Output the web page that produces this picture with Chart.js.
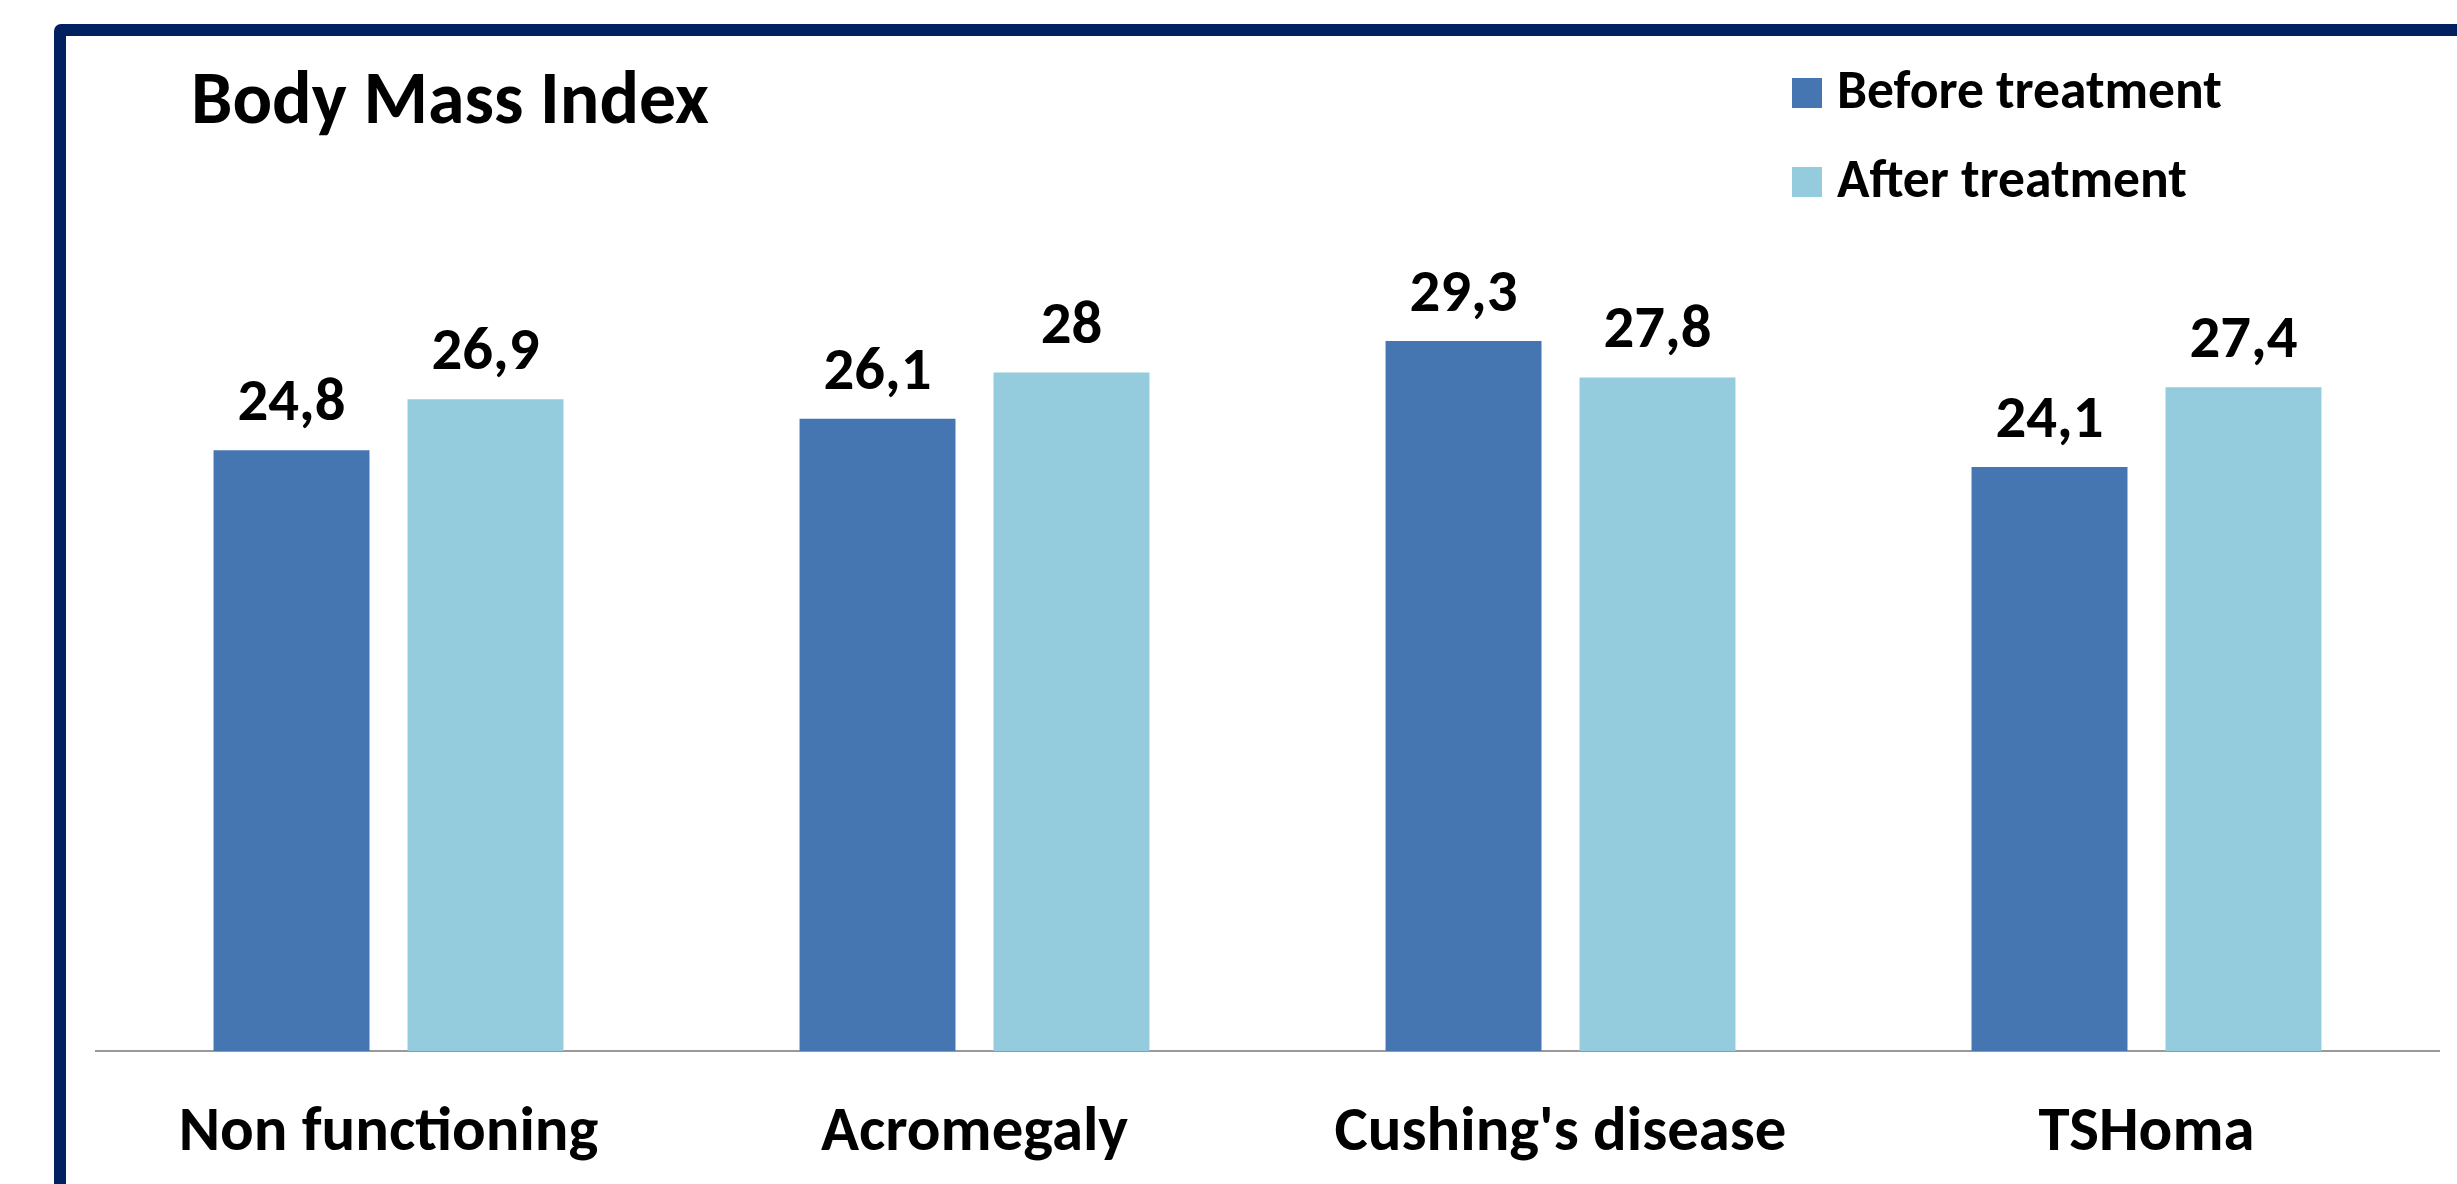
<!DOCTYPE html>
<html>
<head>
<meta charset="utf-8">
<script src="https://cdn.jsdelivr.net/npm/chart.js@4.4.1/dist/chart.umd.min.js"></script>
<style>
  html, body { margin: 0; padding: 0; background: #fff; overflow: hidden; width: 2457px; height: 1184px; }
  #frame { position: absolute; left: 54px; top: 24px; width: 2440px; height: 1220px;
           border: 12px solid #002060; border-radius: 7px; box-sizing: border-box; }
  #chart { position: absolute; left: 0; top: 0; }
</style>
</head>
<body>
<div id="frame"></div>
<canvas id="chart" width="2457" height="1184"></canvas>
<script>
// Body mass index by pituitary tumour type, before and after treatment
const categories = ['Non functioning', 'Acromegaly', "Cushing's disease", 'TSHoma'];
const seriesNames = ['Before treatment', 'After treatment'];
const beforeValues = [24.8, 26.1, 29.3, 24.1];
const afterValues = [26.9, 28, 27.8, 27.4];
const chartTitle = 'Body Mass Index';
const yMin = 0;
const yMax = 35;

const seriesColors = ['#4676B2', '#94CCDD'];
const FAMILY = "Carlito, Lato, 'Open Sans', sans-serif";

// Size each text style so its width matches the intended layout width
const measureCtx = document.createElement('canvas').getContext('2d');
function fitSize(text, width) {
  measureCtx.font = `bold 100px ${FAMILY}`;
  return 100 * width / measureCtx.measureText(text).width;
}
const titleSize = fitSize(chartTitle, 518);
const legendSize = fitSize(seriesNames[0], 385);
const valueSize = fitSize('24,8', 108);
const tickSize = fitSize('TSHoma', 216);

const formatValue = v => String(v).replace('.', ',');

// Values written above each bar
const valueLabels = {
  id: 'valueLabels',
  afterDatasetsDraw(chart) {
    const ctx = chart.ctx;
    ctx.save();
    ctx.font = `bold ${valueSize}px ${FAMILY}`;
    ctx.fillStyle = '#000';
    ctx.textAlign = 'center';
    ctx.textBaseline = 'alphabetic';
    chart.data.datasets.forEach((ds, i) => {
      chart.getDatasetMeta(i).data.forEach((bar, j) => {
        ctx.fillText(formatValue(ds.data[j]), bar.x, bar.y - 30);
      });
    });
    ctx.restore();
  }
};

// Heading at top left and stacked key at top right
const headingAndKey = {
  id: 'headingAndKey',
  afterDraw(chart) {
    const ctx = chart.ctx;
    ctx.save();
    ctx.fillStyle = '#000';
    ctx.textAlign = 'left';
    ctx.textBaseline = 'alphabetic';
    ctx.font = `bold ${titleSize}px ${FAMILY}`;
    ctx.fillText(chartTitle, 191, 123);

    const keyX = 1792, box = 30, rowBaselines = [108, 197];
    ctx.font = `bold ${legendSize}px ${FAMILY}`;
    chart.data.datasets.forEach((ds, i) => {
      const base = rowBaselines[i];
      ctx.fillStyle = ds.backgroundColor;
      ctx.fillRect(keyX, base - box, box, box);
      ctx.fillStyle = '#000';
      ctx.fillText(ds.label, keyX + 45, base);
    });
    ctx.restore();
  }
};

new Chart(document.getElementById('chart'), {
  type: 'bar',
  data: {
    labels: categories,
    datasets: [
      { label: seriesNames[0], data: beforeValues, backgroundColor: seriesColors[0] },
      { label: seriesNames[1], data: afterValues, backgroundColor: seriesColors[1] }
    ]
  },
  options: {
    responsive: false,
    animation: false,
    devicePixelRatio: 1,
    datasets: { bar: { categoryPercentage: 0.662, barPercentage: 0.804, borderWidth: 0 } },
    layout: { padding: { left: 95.5, right: 17.5, top: 203, bottom: 0 } },
    plugins: { legend: { display: false }, tooltip: { enabled: false }, title: { display: false } },
    scales: {
      x: {
        grid: { display: false, drawTicks: false },
        border: { display: true, color: '#999999', width: 2 },
        ticks: {
          color: '#000',
          padding: 52,
          font: { family: FAMILY, size: tickSize, weight: 'bold', lineHeight: 1 }
        },
        afterFit(scale) { scale.height = 133; }
      },
      y: { display: false, min: yMin, max: yMax }
    }
  },
  plugins: [valueLabels, headingAndKey]
});
</script>
</body>
</html>
